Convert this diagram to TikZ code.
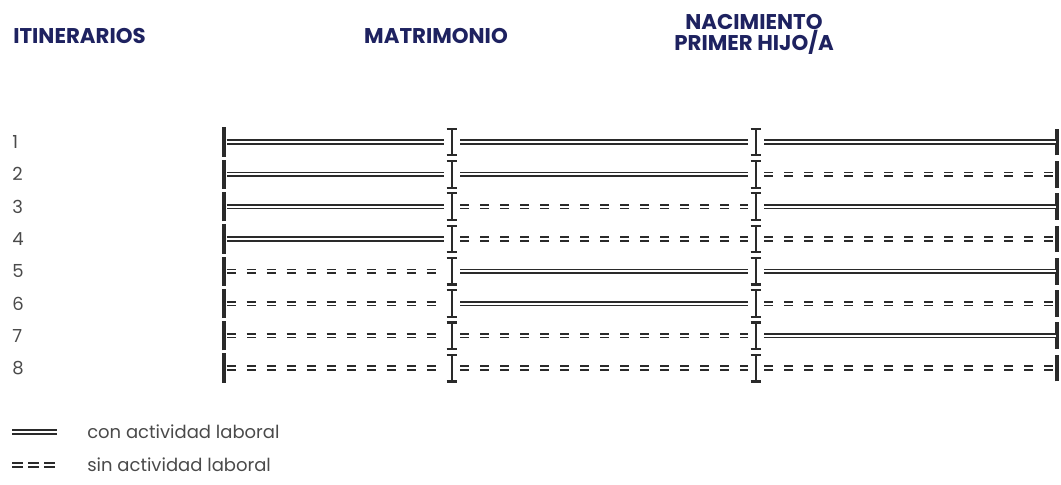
\documentclass[tikz,border=0pt]{standalone}
\usepackage{fontspec}
\setmainfont{Poppins}
\definecolor{navy}{HTML}{1E2260}
\definecolor{txt}{HTML}{4A4A4A}
\definecolor{ln}{HTML}{2A2A2A}
\begin{document}
\begin{tikzpicture}[x=0.75pt,y=-0.75pt,
  hdr/.style={font=\bfseries\fontsize{16}{18}\selectfont, text=navy, inner sep=0pt, anchor=base},
  num/.style={font=\fontsize{13.5}{15}\selectfont, text=txt, inner sep=0pt, anchor=west},
  con/.style={draw=ln, line width=1.25pt, double=white, double distance=1.5pt},
  sin/.style={con, dash pattern=on 6.8pt off 8.2pt},
  endbar/.style={draw=ln, line width=3.2pt},
  ibeam/.style={draw=ln, line width=1.3pt},
  serif/.style={draw=ln, line width=1.6pt}]
\useasboundingbox (0,0) rectangle (1061,485);
\node[hdr, anchor=base west] (h1) at (13,44) {ITINERARIOS};
\node[hdr] (h2) at (436,44) {MATRIMONIO};
\node[hdr] (h3) at (754,30) {NACIMIENTO};
\node[hdr] (h4) at (754,50.5) {PRIMER HIJO/A};
\def\xa{224}\def\xb{452}\def\xc{756}\def\xd{1057}
\foreach \i/\p/\q/\r [count=\k] in {1/con/con/con,2/con/con/sin,3/con/sin/con,4/con/sin/sin,5/sin/con/con,6/sin/con/sin,7/sin/sin/con,8/sin/sin/sin}{
  \pgfmathsetmacro{\yy}{142+(\k-1)*32.3}
  \node[num] (n\i) at (12,\yy) {\i};
  \coordinate (a\i) at (\xa,\yy);
  \coordinate (b\i) at (\xb,\yy);
  \coordinate (c\i) at (\xc,\yy);
  \coordinate (d\i) at (\xd,\yy);
  \draw[endbar] ([yshift=-11]a\i) -- ([yshift=11]a\i);
  \draw[endbar] ([yshift=-10]d\i) -- ([yshift=10]d\i);
  \foreach \bb in {b\i,c\i}{
    \draw[ibeam] ([yshift=-10]\bb) -- ([yshift=10]\bb);
    \draw[serif] ([xshift=-4,yshift=-10]\bb) -- ([xshift=4,yshift=-10]\bb);
    \draw[serif] ([xshift=-4,yshift=10]\bb) -- ([xshift=4,yshift=10]\bb);
  }
  \draw[\p] ([xshift=2]a\i) -- ([xshift=-6]b\i);
  \draw[\q] ([xshift=6]b\i) -- ([xshift=-6]c\i);
  \draw[\r] ([xshift=6]c\i) -- ([xshift=-1]d\i);
}
\coordinate (l1a) at (12,432); \coordinate (l1b) at (57,432);
\coordinate (l2a) at (12,465); \coordinate (l2b) at (57,465);
\draw[con] (l1a) -- (l1b);
\draw[sin, dash pattern=on 8pt off 4pt] (l2a) -- (l2b);
\node[num] (t1) at (87,432) {con actividad laboral};
\node[num] (t2) at (87,465) {sin actividad laboral};
\end{tikzpicture}
\end{document}
